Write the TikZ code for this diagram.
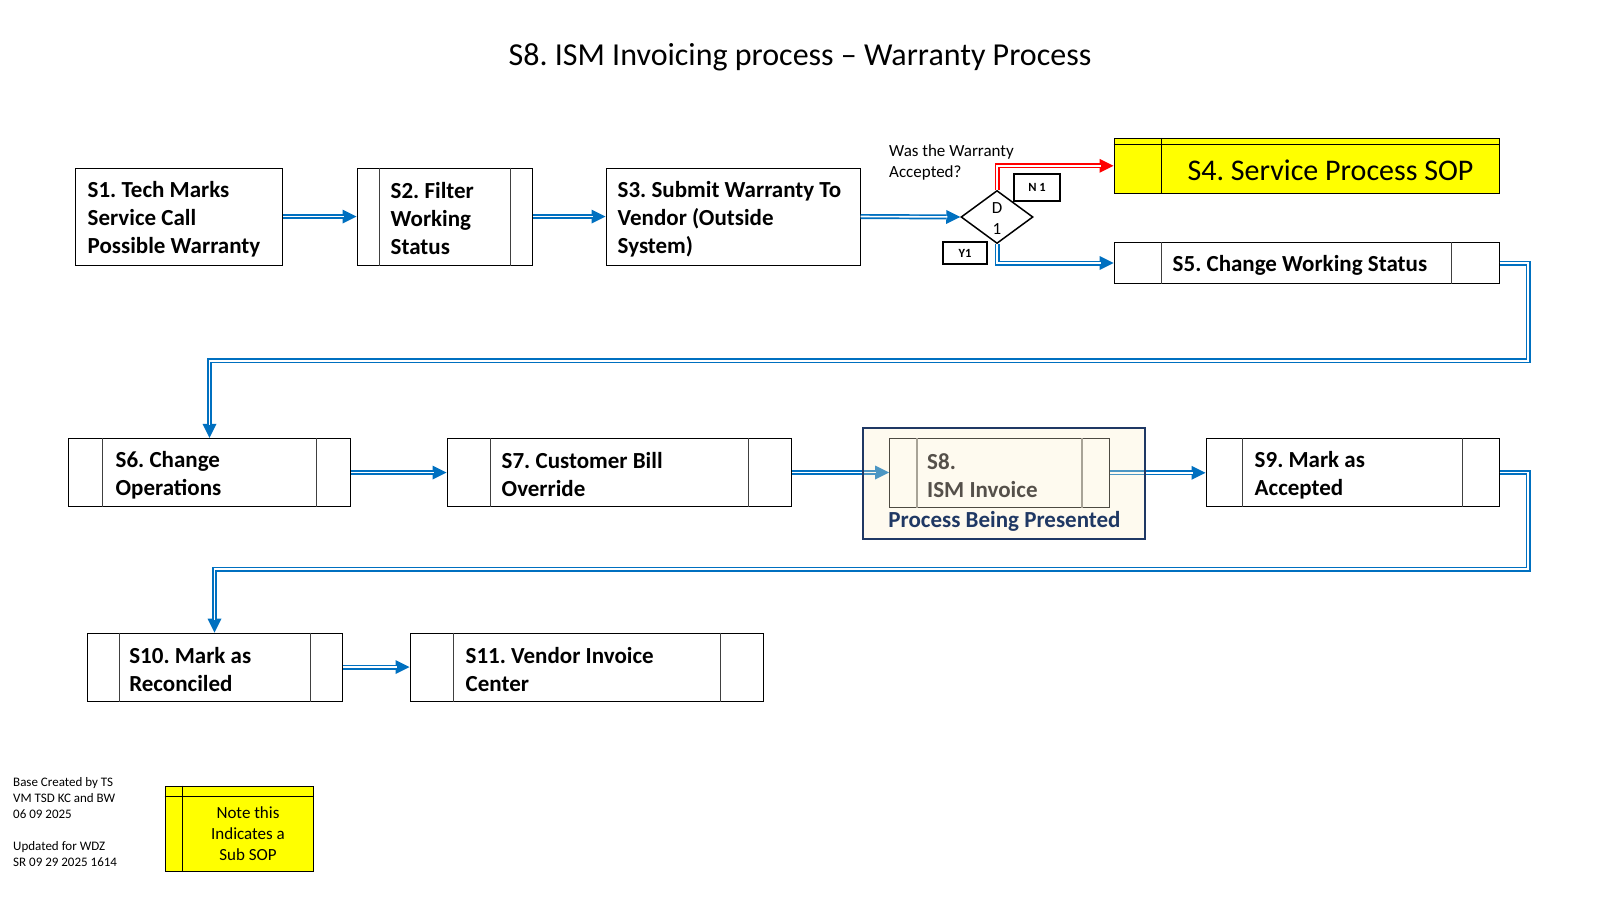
\documentclass[tikz,border=0pt]{standalone}
\usepackage{fontspec}
\setmainfont{Carlito}
\frenchspacing
\usetikzlibrary{arrows.meta,calc,shapes.geometric}
\definecolor{cblue}{HTML}{0070C0}
\definecolor{cred}{HTML}{FF0000}
\definecolor{cyel}{HTML}{FFFF00}
\definecolor{navy}{HTML}{1F3864}
\definecolor{cream}{RGB}{252,238,202}
\definecolor{sgray}{HTML}{4D4A42}
\definecolor{sbar}{HTML}{A8A397}
\definecolor{stext}{HTML}{55504A}
\begin{document}
\begin{tikzpicture}[x=1pt,y=1pt,
  box/.style={draw=black, line width=1pt, inner sep=0pt},
  bar/.style={draw=black!75, line width=0.9pt},
  txt/.style={font=\fontsize{23}{28}\selectfont\bfseries, align=left, inner sep=0pt, anchor=west, yshift=-2.5pt},
  tag/.style={draw=black, line width=1.8pt, inner sep=0pt, font=\fontsize{12.5}{14}\selectfont\bfseries},
  small/.style={font=\fontsize{17}{21}\selectfont, align=center, inner sep=0pt},
  conn/.style={draw=#1, line width=5pt, -{Triangle[length=14pt,width=14pt,line width=0pt]},
    postaction={draw=white, line width=1.6pt, -, shorten >=13pt}},
  conn/.default=cblue]
\useasboundingbox (0,0) rectangle (1600,-900);

% title
\node[font=\fontsize{32}{38}\selectfont, inner sep=0pt] (title) at (800,-57) {S8. ISM Invoicing process \textendash{} Warranty Process};

% row 1
\node[box, minimum width=207, minimum height=97] (s1) at (179,-216.5) {};
\node[txt] (t1) at ($(s1.west)+(12.5,0)$) {S1. Tech Marks\\Service Call\\Possible Warranty};

\node[box, minimum width=175, minimum height=97] (s2) at (444.5,-216.5) {};
\draw[bar] ($(s2.north west)+(22.5,0)$) -- ($(s2.south west)+(22.5,0)$);
\draw[bar] ($(s2.north east)+(-22,0)$) -- ($(s2.south east)+(-22,0)$);
\node[txt] (t2) at ($(s2.west)+(34,0)$) {S2. Filter\\Working\\Status};

\node[box, minimum width=254, minimum height=97] (s3) at (733,-216.5) {};
\node[txt] (t3) at ($(s3.west)+(12,0)$) {S3. Submit Warranty To\\Vendor (Outside\\System)};

\node[draw=black, line width=1.5pt, diamond, minimum width=72, minimum height=53, inner sep=0pt] (d1) at (997,-217) {};
\node[small] (d1t) at ($(d1.center)+(0,-2)$) {D\\1};

\node[small, align=left, anchor=west] (q) at (889,-162.5) {Was the Warranty\\Accepted?};
\node[tag, minimum width=46, minimum height=26.7] (n1) at (1037,-187.3) {N 1};
\node[tag, minimum width=44, minimum height=22.5] (y1) at (965,-253) {Y1};

\node[box, fill=cyel, minimum width=385, minimum height=55] (s4) at (1306.5,-165.8) {};
\draw[line width=1pt] ($(s4.north west)+(0,-6.7)$) -- ($(s4.north east)+(0,-6.7)$);
\draw[line width=1pt] ($(s4.north west)+(48,0)$) -- ($(s4.south west)+(48,0)$);
\node[font=\fontsize{30}{34}\selectfont, inner sep=0pt] (t4) at (1330.5,-170) {S4. Service Process SOP};

\node[box, minimum width=385, minimum height=40.6] (s5) at (1306.5,-263) {};
\draw[bar] ($(s5.north west)+(48,0)$) -- ($(s5.south west)+(48,0)$);
\draw[bar] ($(s5.north east)+(-48.3,0)$) -- ($(s5.south east)+(-48.3,0)$);
\node[txt] (t5) at ($(s5.west)+(59,0)$) {S5. Change Working Status};

% row 2
\node[box, minimum width=282.4, minimum height=68.4] (s6) at (209.5,-472.5) {};
\draw[bar] ($(s6.north west)+(34.7,0)$) -- ($(s6.south west)+(34.7,0)$);
\draw[bar] ($(s6.north east)+(-35,0)$) -- ($(s6.south east)+(-35,0)$);
\node[txt] (t6) at ($(s6.west)+(47.7,0)$) {S6. Change\\Operations};

\node[box, minimum width=344, minimum height=68.4] (s7) at (619,-472.5) {};
\draw[bar] ($(s7.north west)+(44,0)$) -- ($(s7.south west)+(44,0)$);
\draw[bar] ($(s7.north east)+(-43,0)$) -- ($(s7.south east)+(-43,0)$);
\node[txt] (t7) at ($(s7.west)+(55,0)$) {S7. Customer Bill\\Override};

\node[box, minimum width=293, minimum height=68.4] (s9) at (1352.5,-472.5) {};
\draw[bar] ($(s9.north west)+(37,0)$) -- ($(s9.south west)+(37,0)$);
\draw[bar] ($(s9.north east)+(-37,0)$) -- ($(s9.south east)+(-37,0)$);
\node[txt] (t9) at ($(s9.west)+(49,0)$) {S9. Mark as\\Accepted};

% row 3
\node[box, minimum width=255, minimum height=68] (s10) at (214.5,-667) {};
\draw[bar] ($(s10.north west)+(32.5,0)$) -- ($(s10.south west)+(32.5,0)$);
\draw[bar] ($(s10.north east)+(-32,0)$) -- ($(s10.south east)+(-32,0)$);
\node[txt] (t10) at ($(s10.west)+(42.6,0)$) {S10. Mark as\\Reconciled};

\node[box, minimum width=353, minimum height=68] (s11) at (586.5,-667) {};
\draw[bar] ($(s11.north west)+(44,0)$) -- ($(s11.south west)+(44,0)$);
\draw[bar] ($(s11.north east)+(-43.5,0)$) -- ($(s11.south east)+(-43.5,0)$);
\node[txt] (t11) at ($(s11.west)+(56,0)$) {S11. Vendor Invoice\\Center};

% S8 inner box geometry (drawn later)
\path (999.3,-472.8) node[minimum width=220, minimum height=69, inner sep=0pt] (s8) {};

% connectors
\coordinate (r1) at (1528,-360.7);
\coordinate (r2) at (1528,-569);
\draw[conn] (s1.east) -- (s2.west);
\draw[conn] (s2.east) -- (s3.west);
\draw[conn] (s3.east) -- (d1.west);
\draw[conn=cred] (d1.north) |- (s4.west);
\draw[conn] (d1.south) |- (s5.west);
\draw[conn] (s5.east) -| (r1) -| (s6.north);
\draw[conn] (s6.east) -- (s7.west);
\draw[conn] (s7.east) -- (s7.east -| s8.west);
\draw[conn] (s8.east) -- (s8.east -| s9.west);
\draw[conn] (s9.east) -| (r2) -| (s10.north);
\draw[conn] (s10.east) -- (s11.west);

% S8 presented process frame
\node[draw=navy, line width=2pt, fill=cream, fill opacity=0.3, draw opacity=1, minimum width=282.3, minimum height=110.7, inner sep=0pt] (s8f) at (1003.9,-483.7) {};
\node[draw=sgray, line width=1.1pt, minimum width=220, minimum height=69, inner sep=0pt] (s8b) at (s8) {};
\draw[draw=sbar, line width=1.3pt] ($(s8.north west)+(28,0)$) -- ($(s8.south west)+(28,0)$);
\draw[draw=sbar, line width=1.3pt] ($(s8.north east)+(-27.6,0)$) -- ($(s8.south east)+(-27.6,0)$);
\node[txt, text=stext] (t8) at (927,-473.5) {S8.\\ISM Invoice};
\node[font=\fontsize{23}{26}\selectfont\bfseries, text=navy, inner sep=0pt] (pbp) at (1004.5,-521) {Process Being Presented};

% footer
\node[font=\fontsize{13}{16}\selectfont, align=left, anchor=north west, inner sep=0pt] (foot) at (13,-777) {Base Created by TS\\VM TSD KC and BW\\06 09 2025\\[16pt]Updated for WDZ\\SR 09 29 2025 1614};

\node[box, fill=cyel, minimum width=148.3, minimum height=85.7] (note) at (239.2,-828.9) {};
\draw[line width=1pt] ($(note.north west)+(0,-11.3)$) -- ($(note.north east)+(0,-11.3)$);
\draw[line width=1pt] ($(note.north west)+(18.3,0)$) -- ($(note.south west)+(18.3,0)$);
\node[small] (notet) at (248,-834) {Note this\\Indicates a\\Sub SOP};
\end{tikzpicture}
\end{document}
